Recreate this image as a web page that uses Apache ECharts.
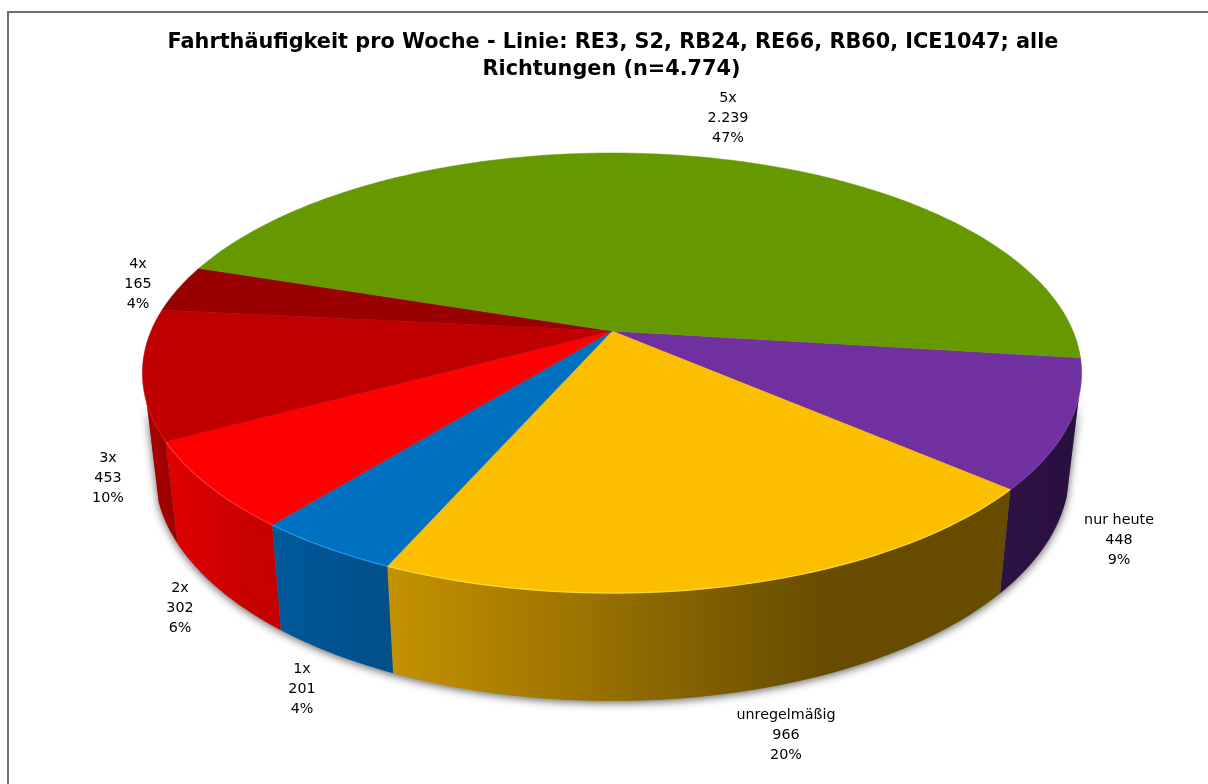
<!DOCTYPE html>
<html><head><meta charset="utf-8">
<style>html,body{margin:0;padding:0;background:#fff}#c{width:1208px;height:784px}</style>
<script src="https://cdn.jsdelivr.net/npm/echarts@6/dist/echarts.min.js"></script>
</head><body><div id="c"></div>
<script>
// ---------- data ----------
const categories = ['nur heute', 'unregelmäßig', '1x', '2x', '3x', '4x', '5x'];
const values = [448, 966, 201, 302, 453, 165, 2239];
const shares = ['9%', '20%', '4%', '6%', '10%', '4%', '47%'];
const valueLabels = ['448', '966', '201', '302', '453', '165', '2.239'];
const titleLines = ['Fahrthäufigkeit pro Woche - Linie: RE3, S2, RB24, RE66, RB60, ICE1047; alle', 'Richtungen (n=4.774)'];
// ---------- style / layout ----------
const topColors = ['#7030a0', '#fcbf00', '#0070c0', '#ff0000', '#c00000', '#990000', '#669900'];
const rimColors = ['#7f40b0', '#ffe23a', '#2ea0ee', '#ff3a3a', '#d81818', '#a80808', '#72a408'];
const sideStops = [
  ['#2d1245', '#2a1040', 0.2], ['#c49200', '#674c00', 0.3],
  ['#005a9c', '#00508a', 0.2], ['#e00000', '#c60000', 0.2], ['#a60000', '#a00000', 0.2], ['#800000', '#800000', 0.2], ['#4d7300', '#4d7300', 0.2]
];
const labelPos = [[1119, 540], [786, 735], [302, 689], [180, 608], [108, 478], [138, 284], [728, 118]];
const FONT = '"DejaVu Sans", Tahoma, sans-serif';
const CX = 612, CY = 331, A = 461, B = 212, K = 0.191, START = 7.1;
const VIS_FROM = 17, VIS_TO = 161.5;
const total = values.reduce((a, b) => a + b, 0);
const deg = Math.PI / 180;

function rim(t) {
  const u = Math.cos(t * deg), v = Math.sin(t * deg), w = 1 - K * v;
  return [CX + A * u / w, CY + B * v / w];
}
function lowRim(t) {
  const u = Math.cos(t * deg), v = Math.sin(t * deg), w = 1 - K * v;
  return [CX + 0.974 * A * u / w, CY + B * v / w + 96 + 12 * v];
}
function angles(i) {
  let s = 0;
  for (let j = 0; j < i; j++) s += values[j];
  return [START + s / total * 360, START + (s + values[i]) / total * 360];
}
function arc(fn, a, b) {
  const n = Math.max(2, Math.ceil(Math.abs(b - a) / 1.5)), out = [];
  for (let i = 0; i <= n; i++) out.push(fn(a + (b - a) * i / n));
  return out;
}
const seriesData = categories.map((c, i) => ({ name: c, value: [values[i], i] }));

function renderShadow() {
  const pts = arc(t => { const p = lowRim(t); return [p[0], p[1] - 2]; }, VIS_FROM, VIS_TO);
  return { type: 'polygon', shape: { points: pts.concat(arc(rim, VIS_TO, VIS_FROM)) }, silent: true,
    style: { fill: '#777', shadowBlur: 8, shadowColor: 'rgba(0,0,0,0.6)', shadowOffsetY: 4 } };
}
function renderSide(params, api) {
  const i = api.value(1);
  let [a, b] = angles(i);
  a = Math.max(a, VIS_FROM); b = Math.min(b, VIS_TO);
  if (b <= a) return null;
  const all = arc(rim, a, b).concat(arc(lowRim, b, a)), xs = all.map(p => p[0]);
  const x0 = Math.min(...xs), x1 = Math.max(...xs);
  const st = sideStops[i];
  return { type: 'polygon', shape: { points: all }, silent: true,
    style: { fill: new echarts.graphic.LinearGradient(x1, 0, x0, 0, [
      { offset: 0, color: st[1] }, { offset: st[2], color: st[1] }, { offset: 1, color: st[0] }
    ], true) } };
}
function renderTop(params, api) {
  const i = api.value(1);
  const [a, b] = angles(i);
  const children = [
    { type: 'polygon', shape: { points: [[CX, CY]].concat(arc(rim, a, b)) }, silent: true,
      style: { fill: topColors[i], stroke: topColors[i], lineWidth: 0.5 } }
  ];
  const ha = Math.max(a, VIS_FROM), hb = Math.min(b, VIS_TO);
  if (hb > ha) children.push({ type: 'polyline', shape: { points: arc(rim, ha, hb) }, silent: true,
    style: { fill: null, stroke: rimColors[i], lineWidth: 1.2, opacity: 0.8 } });
  return { type: 'group', children };
}
function renderLabel(params, api) {
  const i = api.value(1);
  return { type: 'text', silent: true, style: {
    x: labelPos[i][0], y: labelPos[i][1], align: 'center', verticalAlign: 'middle',
    text: categories[i] + '\n' + valueLabels[i] + '\n' + shares[i],
    font: '14.3px ' + FONT, lineHeight: 20, fill: '#000' } };
}

const chart = echarts.init(document.getElementById('c'), null, { renderer: 'canvas' });
chart.setOption({
  animation: false,
  backgroundColor: '#fff',
  tooltip: { show: false },
  graphic: [
    { type: 'line', shape: { x1: 7, y1: 12, x2: 1208, y2: 12 }, style: { stroke: '#6e6e6e', lineWidth: 2 } },
    { type: 'line', shape: { x1: 8, y1: 12, x2: 8, y2: 784 }, style: { stroke: '#6e6e6e', lineWidth: 2 } }
  ],
  title: [
    { text: titleLines[0], left: 608, textAlign: 'center', top: 27, textStyle: { fontFamily: FONT, fontSize: 20.8, fontWeight: 'bold', color: '#000' } },
    { text: titleLines[1], left: 606.5, textAlign: 'center', top: 54, textStyle: { fontFamily: FONT, fontSize: 20.8, fontWeight: 'bold', color: '#000' } }
  ],
  series: [
    { type: 'custom', coordinateSystem: 'none', z: 1, data: [[0, 0]], renderItem: renderShadow },
    { type: 'custom', coordinateSystem: 'none', z: 2, data: seriesData, renderItem: renderSide },
    { type: 'custom', coordinateSystem: 'none', z: 3, data: seriesData, renderItem: renderTop },
    { type: 'custom', coordinateSystem: 'none', z: 4, data: seriesData, renderItem: renderLabel }
  ]
});
</script></body></html>
